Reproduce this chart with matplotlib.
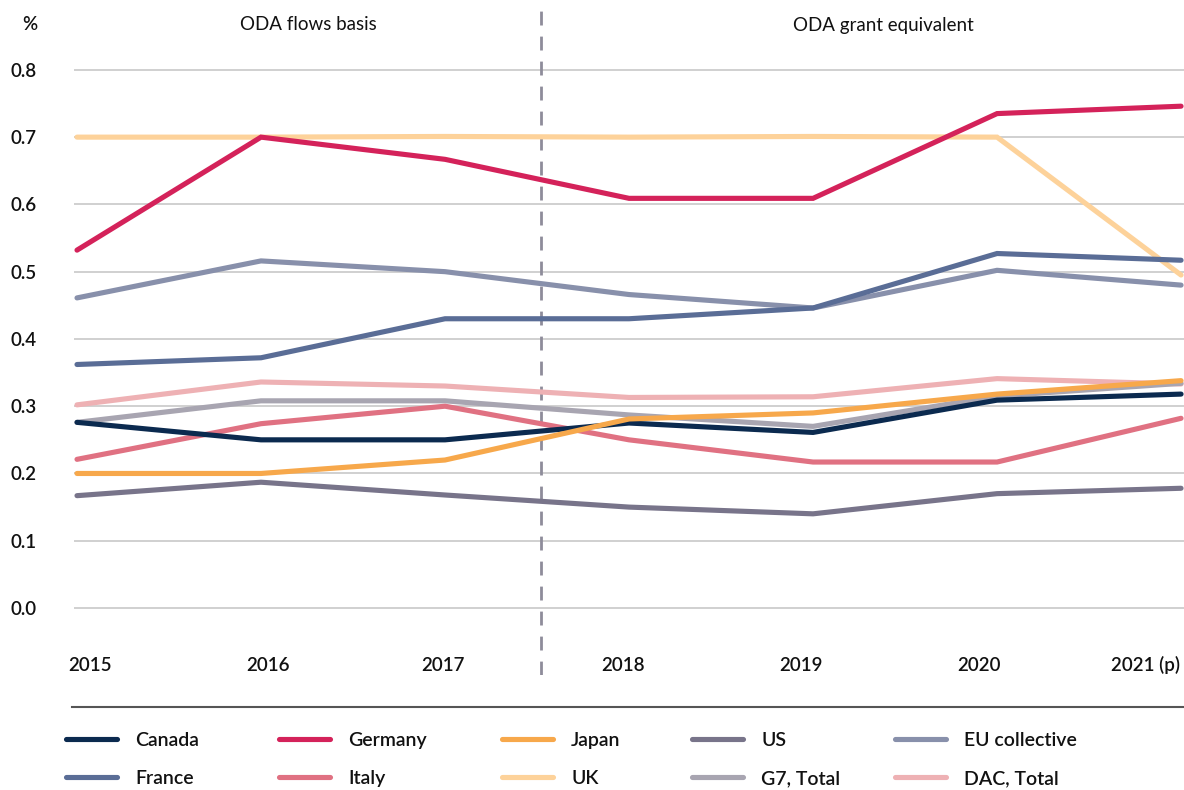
import matplotlib
matplotlib.use('Agg')
import matplotlib.pyplot as plt
from matplotlib.lines import Line2D

plt.rcParams['font.family'] = ['Lato', 'DejaVu Sans']

# Data (ODA as % of GNI)
years = ['2015', '2016', '2017', '2018', '2019', '2020', '2021 (p)']
canada = [0.276, 0.250, 0.250, 0.275, 0.261, 0.309, 0.318]
germany = [0.532, 0.700, 0.667, 0.609, 0.609, 0.735, 0.746]
japan = [0.200, 0.200, 0.220, 0.281, 0.290, 0.318, 0.338]
us = [0.167, 0.187, 0.168, 0.150, 0.140, 0.170, 0.178]
eu = [0.461, 0.516, 0.500, 0.466, 0.446, 0.502, 0.480]
france = [0.362, 0.372, 0.430, 0.430, 0.446, 0.527, 0.517]
italy = [0.221, 0.274, 0.300, 0.250, 0.217, 0.217, 0.282]
uk = [0.700, 0.700, 0.701, 0.700, 0.701, 0.700, 0.495]
g7 = [0.276, 0.308, 0.308, 0.287, 0.270, 0.315, 0.334]
dac = [0.302, 0.336, 0.330, 0.313, 0.314, 0.341, 0.333]

series = [
    ('Canada', canada, '#0b2a4f'),
    ('France', france, '#5a6d96'),
    ('Germany', germany, '#d4225a'),
    ('Italy', italy, '#e07182'),
    ('Japan', japan, '#f7a84b'),
    ('UK', uk, '#fdd29a'),
    ('US', us, '#78748a'),
    ('G7, Total', g7, '#a8a5b1'),
    ('EU collective', eu, '#8890ab'),
    ('DAC, Total', dac, '#eeb1b4'),
]
draw_order = ['DAC, Total', 'G7, Total', 'UK', 'Italy', 'EU collective', 'France',
              'US', 'Canada', 'Japan', 'Germany']

fig = plt.figure(figsize=(11.84, 7.9), dpi=100)
ax = fig.add_axes([74 / 1184, 115 / 790, 1110 / 1184, 665 / 790])

x = list(range(len(years)))
lookup = {name: (vals, col) for name, vals, col in series}
for name in draw_order:
    vals, col = lookup[name]
    ax.plot(x, vals, color=col, lw=3.7, solid_capstyle='round', solid_joinstyle='miter')

ax.set_xlim(-0.0163, 6.016)
ax.set_ylim(-0.0996, 0.889)

for v in [0.0, 0.1, 0.2, 0.3, 0.4, 0.5, 0.6, 0.7, 0.8]:
    ax.axhline(v, color='#c8c8c8', lw=1.2, zorder=0)
ax.axvline(2.52, color='#8e8c9a', lw=2, dashes=(5, 4), zorder=0.5)

ax.set_yticks([0.0, 0.1, 0.2, 0.3, 0.4, 0.5, 0.6, 0.7, 0.8])
ax.set_yticklabels(['0.0', '0.1', '0.2', '0.3', '0.4', '0.5', '0.6', '0.7', '0.8'],
                   fontsize=13.5, fontweight='semibold', color='#111111')
ax.tick_params(axis='y', length=0, pad=27)
ax.set_xticks([])
for s in ax.spines.values():
    s.set_visible(False)

# year labels
label_x = [0.0144, 0.175, 0.3328, 0.4946, 0.6550, 0.8153]
for lx, yr in zip(label_x, years[:-1]):
    ax.text(lx, 0.015, yr, transform=ax.transAxes, ha='center', va='center',
            fontsize=13.5, fontweight='semibold', color='#111111')
ax.text(0.9964, 0.015, years[-1], transform=ax.transAxes, ha='right', va='center',
        fontsize=13.5, fontweight='semibold', color='#111111')

fig.text(30 / 1184, 1 - 25 / 790, '%', ha='center', va='center', fontsize=13.5,
         fontweight='semibold', color='#111111')
fig.text(308 / 1184, 1 - 25 / 790, 'ODA flows basis', ha='center', va='center',
         fontsize=13.5, color='#111111')
fig.text(883 / 1184, 1 - 25 / 790, 'ODA grant equivalent', ha='center', va='center',
         fontsize=13.5, color='#111111')

# separator line above legend
fig.add_artist(Line2D([72 / 1184, 1.0], [1 - 707 / 790, 1 - 707 / 790],
                      color='#555555', lw=1.5))

# legend, one column at a time
col_x = [66, 279, 502, 692, 895]
for i, cx in enumerate(col_x):
    entries = series[2 * i:2 * i + 2]
    handles = [Line2D([], [], color=c, lw=3.7, solid_capstyle='round') for _, _, c in entries]
    labels = [n for n, _, _ in entries]
    leg = fig.legend(handles, labels, loc='upper left',
                     bbox_to_anchor=(cx / 1184, 1 - 732 / 790),
                     frameon=False, fontsize=14, handlelength=2.6, handletextpad=0.95,
                     labelspacing=1.07, borderpad=0, borderaxespad=0)
    for t in leg.get_texts():
        t.set_fontweight('semibold')
        t.set_color('#111111')

fig.savefig('out.png', dpi=100, facecolor='white')
